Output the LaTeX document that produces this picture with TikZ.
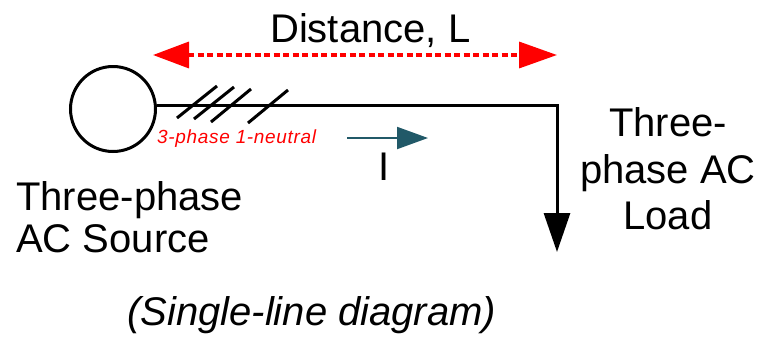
\documentclass[tikz,border=0pt]{standalone}
\usepackage{fontspec}
\setmainfont{Liberation Sans}
\usetikzlibrary{arrows.meta}
\definecolor{curcol}{RGB}{33,89,104}
\newfontfamily\spacedfont[LetterSpace=3.5]{Liberation Sans}
\begin{document}
\begin{tikzpicture}[x=1pt,y=-1pt,
  bigtext/.style={font=\fontsize{40}{42}\selectfont, inner sep=0pt},
  wire/.style={line width=3pt, line cap=butt},
  hashmark/.style={line width=3pt},
  distarrow/.style={red, line width=3.5pt, dash pattern=on 6pt off 3.5pt,
     {Triangle[length=36pt,width=26pt]}-{Triangle[length=38pt,width=26pt]}},
  curarrow/.style={curcol, line width=2pt, -{Triangle[length=31pt,width=22pt]}}
]
\useasboundingbox (0,0) rectangle (765,341);
% source
\node[circle, draw, line width=3pt, minimum size=85pt, inner sep=0pt] (src) at (113,109) {};
\coordinate (wstart) at (src.east |- 0,105);
\coordinate (corner) at (557,105);
\coordinate (loadtip) at (557,252);
\draw[wire, -{Triangle[length=39pt,width=26pt]}] (wstart) -- (corner) -- (loadtip);
% hash marks
\draw[hashmark] (177,118) -- (217,86);
\draw[hashmark] (194,119) -- (234,87);
\draw[hashmark] (211,122) -- (251,89);
\draw[hashmark] (248,123) -- (288,90);
% distance arrow
\coordinate (dl) at (153,55);
\coordinate (dr) at (557,55);
\draw[distarrow] (dl) -- (dr);
\node[bigtext, anchor=base west] (dist) at (270,42) {Distance, L};
% current arrow
\coordinate (ia) at (347,138);
\coordinate (ib) at (428,138);
\draw[curarrow] (ia) -- (ib);
\node[bigtext, anchor=base] (ilab) at (384,180) {I};
% wire label
\node[red, font=\spacedfont\fontsize{19}{22}\selectfont\itshape, inner sep=0pt, anchor=base west] (wlab) at (157,143) {3-phase 1-neutral};
% source text
\node[bigtext, align=left, anchor=north west] (srctext) at (16,181.5) {Three-phase\\AC Source};
% load text
\node[font=\fontsize{40}{46.5}\selectfont, inner sep=0pt, align=center, anchor=north] (loadtext) at (668,107.5) {Three-\\phase AC\\Load};
% caption
\node[bigtext, font=\fontsize{40}{42}\selectfont\itshape, anchor=base west] (cap) at (127,325) {(Single-line diagram)};
\end{tikzpicture}
\end{document}
